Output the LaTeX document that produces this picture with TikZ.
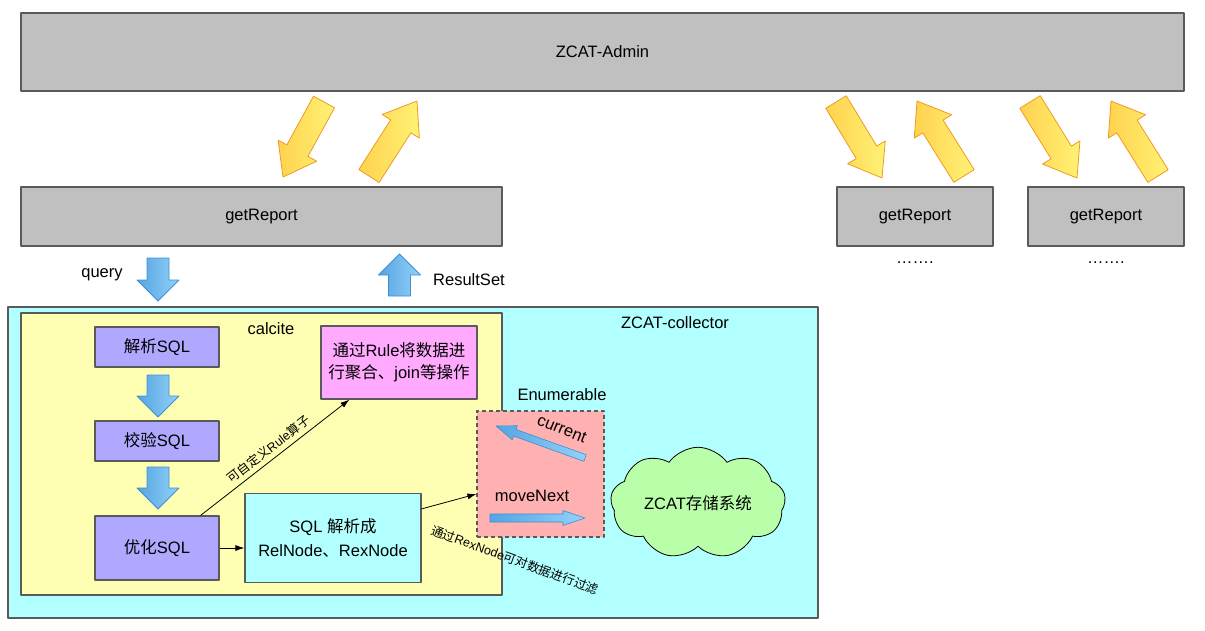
\documentclass[tikz,border=0pt]{standalone}
\usepackage{fontspec}
\setmainfont{Liberation Sans}
\newfontfamily\cjk{Noto Sans CJK SC}
\usetikzlibrary{arrows.meta, calc, shapes.symbols}
\newcommand{\zh}[1]{{\cjk #1}}

\definecolor{boxgray}{HTML}{C0C0C0}
\definecolor{edgegray}{HTML}{5A5A5A}
\definecolor{collectorcyan}{HTML}{B2FFFF}
\definecolor{calciteyellow}{HTML}{FFFFB4}
\definecolor{steplilac}{HTML}{B0A8FF}
\definecolor{rulepink}{HTML}{FFAAFF}
\definecolor{enumpink}{HTML}{FFB0B0}
\definecolor{cloudgreen}{HTML}{B9FFAA}
\definecolor{yellowdark}{HTML}{FFD24E}
\definecolor{yellowlight}{HTML}{FFF275}
\definecolor{arroworange}{HTML}{EE9A22}
\definecolor{bluedark}{HTML}{3D8FD6}
\definecolor{bluemid}{HTML}{56A4E2}
\definecolor{bluelight}{HTML}{92D2F8}

% fat block arrow: [style](tail)(tip)[shaft half width/head half width/head length]
\def\fatarrow[#1](#2,#3)(#4,#5)[#6/#7/#8]{%
  \pgfmathsetmacro\arrang{atan2(#3-#5,#4-#2)}%
  \pgfmathsetmacro\arrlen{veclen(#4-#2,#5-#3)}%
  \draw[#1, shift={(#2,#3)}, rotate=\arrang]
    (0,-#6) -- (\arrlen-#8,-#6) -- (\arrlen-#8,-#7) -- (\arrlen,0)
    -- (\arrlen-#8,#7) -- (\arrlen-#8,#6) -- (0,#6) -- cycle;}

\tikzset{
  box/.style={draw=edgegray, line width=1.2pt, inner sep=0pt, align=center},
  graybox/.style={box, fill=boxgray, line width=1.6pt},
  stepbox/.style={box, fill=steplilac, minimum width=124, minimum height=40},
  yellowarrow/.style={draw=arroworange, line width=0.8pt, left color=yellowdark, right color=yellowlight},
  bluearrow/.style={draw=bluedark, line width=0.8pt, left color=bluemid, right color=bluelight},
  link/.style={-{Latex[length=9pt, width=6pt]}, line width=0.8pt},
  smalltext/.style={font=\fontsize{12.5}{14}\selectfont},
}

\begin{document}
\begin{tikzpicture}[x=1pt, y=-1pt, line join=round, font=\fontsize{16.5}{22}\selectfont]
  \useasboundingbox (0,0) rectangle (1205,630);

  %========================
  % Top: admin and report callers
  %========================
  \node[graybox, minimum width=1163, minimum height=78] (admin) at (602.5,52) {ZCAT-Admin};
  \node[graybox, minimum width=481, minimum height=59] (report) at (261.5,216.5) {getReport};
  \node[graybox, minimum width=156, minimum height=59] (reportb) at (915,216.5) {getReport};
  \node[graybox, minimum width=156, minimum height=59] (reportc) at (1106,216.5) {getReport};
  \node (dotsb) at (915,263) {…….};
  \node (dotsc) at (1106,263) {…….};

  % request / response arrows
  \fatarrow[yellowarrow](324,102)(283,177)[12/22/30]
  \fatarrow[yellowarrow](369,176)(417,101)[12/22/30]
  \fatarrow[yellowarrow](836,102)(882,178)[12/22/30]
  \fatarrow[yellowarrow](964,176)(917,101)[12/22/30]
  \fatarrow[yellowarrow](1030,102)(1077,178)[12/22/30]
  \fatarrow[yellowarrow](1158,176)(1111,101)[12/22/30]

  \fatarrow[bluearrow](158,258)(158,301)[11/21/21]
  \fatarrow[bluearrow](399.5,296)(399.5,254)[11/21/21]
  \node (query) at (102,275) {query};
  \node (result) at (469,280) {ResultSet};

  %========================
  % Collector
  %========================
  \node[box, fill=collectorcyan, minimum width=810, minimum height=311] (collector) at (413,462.5) {};
  \node (collectorlabel) at (675,323) {ZCAT-collector};
  \node[box, fill=calciteyellow, minimum width=481, minimum height=282] (calcite) at (261.5,454) {};
  \node (calcitelabel) at (271,329) {calcite};

  % calcite steps
  \node[stepbox] (parse) at (157,347) {\zh{解析}SQL};
  \node[stepbox] (check) at (157,441) {\zh{校验}SQL};
  \node[stepbox, minimum height=64] (optimize) at (157,548) {\zh{优化}SQL};
  \fatarrow[bluearrow](158,375)(158,417)[11/21/21]
  \fatarrow[bluearrow](158,467)(158,509)[11/21/21]

  \node[box, fill=rulepink, minimum width=156, minimum height=73] (rule) at (399,362.5)
    {\zh{通过}Rule\zh{将数据进}\\\zh{行聚合、}join\zh{等操作}};
  \node[box, fill=collectorcyan, minimum width=176, minimum height=89, font=\fontsize{16.5}{24}\selectfont] (relnode) at (333,538)
    {SQL \zh{解析成}\\RelNode\zh{、}RexNode};

  % enumerable and storage
  \node[box, fill=enumpink, dash pattern=on 4pt off 3pt, minimum width=127, minimum height=126] (enum) at (540.5,474) {};
  \node (enumlabel) at (562,395) {Enumerable};
  \fatarrow[bluearrow, line width=0.6pt](585,458)(496,426)[3.5/7.5/20]
  \fatarrow[bluearrow, line width=0.6pt](490,518)(585,518)[4/7.5/22]
  \node[rotate=-22] (currentlabel) at (562,429) {current};
  \node (nextlabel) at (532,496) {moveNext};
  \node[cloud, cloud puffs=9, cloud puff arc=110, aspect=1.7, draw=black, line width=0.8pt,
    fill=cloudgreen, minimum width=175, minimum height=106, inner sep=0pt] (storage) at (698,503) {ZCAT\zh{存储系统}};

  % connectors
  \draw[link] (optimize.east) -- (optimize.east -| relnode.west);
  \draw[link] ($(optimize.north east)+(-19,0)$) -- ($(rule.south west)+(29,0)$)
    node[midway, above=1pt, sloped, smalltext] {\zh{可自定义}Rule\zh{算子}};
  \draw[link] ($(relnode.north east)+(0,16)$) -- ($(enum.west)+(0,20)$);
  \node[rotate=-20, smalltext] (rexlabel) at (515,560) {\zh{通过}RexNode\zh{可对数据进行过滤}};

\end{tikzpicture}
\end{document}
